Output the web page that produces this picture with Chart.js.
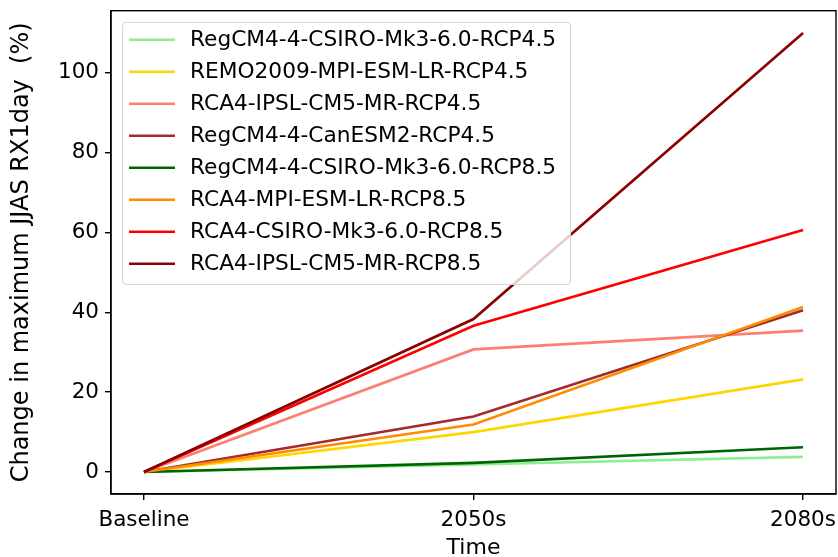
<!DOCTYPE html>
<html>
<head>
<meta charset="utf-8">
<script src="https://cdn.jsdelivr.net/npm/chart.js@4/dist/chart.umd.min.js"></script>
<style>
html,body{margin:0;padding:0;background:#fff;}
#wrap{width:838px;height:557px;position:relative;}
</style>
</head>
<body>
<div id="wrap"><canvas id="c" width="838" height="557"></canvas></div>
<script>
const categories = ["Baseline", "2050s", "2080s"];
const seriesNames = [
  "RegCM4-4-CSIRO-Mk3-6.0-RCP4.5",
  "REMO2009-MPI-ESM-LR-RCP4.5",
  "RCA4-IPSL-CM5-MR-RCP4.5",
  "RegCM4-4-CanESM2-RCP4.5",
  "RegCM4-4-CSIRO-Mk3-6.0-RCP8.5",
  "RCA4-MPI-ESM-LR-RCP8.5",
  "RCA4-CSIRO-Mk3-6.0-RCP8.5",
  "RCA4-IPSL-CM5-MR-RCP8.5"
];
const regcmCsiro45 = [0, 1.9, 3.8];
const remoMpi45 = [0, 10.0, 23.2];
const rcaIpsl45 = [0, 30.7, 35.4];
const regcmCan45 = [0, 13.9, 40.5];
const regcmCsiro85 = [0, 2.3, 6.2];
const rcaMpi85 = [0, 11.9, 41.3];
const rcaCsiro85 = [0, 36.6, 60.6];
const rcaIpsl85 = [0, 38.3, 109.9];
const yTicks = [0, 20, 40, 60, 80, 100];

const seriesValues = [regcmCsiro45, remoMpi45, rcaIpsl45, regcmCan45, regcmCsiro85, rcaMpi85, rcaCsiro85, rcaIpsl85];
const colors = ["#90EE90", "#FFD700", "#FA8072", "#A52A2A", "#006400", "#FF8C00", "#FF0000", "#8B0000"];

const FONT = "'DejaVu Sans', sans-serif";
Chart.defaults.font.family = FONT;
Chart.defaults.color = "#000";

const datasets = seriesNames.map((name, i) => ({
  label: name,
  data: seriesValues[i].map((v, j) => ({x: j, y: v})),
  borderColor: colors[i],
  backgroundColor: colors[i],
  borderWidth: 2.6,
  pointRadius: 0,
  tension: 0,
  fill: false,
  order: seriesNames.length - i
}));

const framePlugin = {
  id: 'frame',
  afterDraw(chart) {
    const ctx = chart.ctx, a = chart.chartArea;
    ctx.save();
    ctx.strokeStyle = "#000";
    ctx.lineWidth = 1.4;
    ctx.strokeRect(a.left, a.top, a.right - a.left, a.bottom - a.top);
    // legend
    const lx = 122.5, ly = 22.5, lw = 448, lh = 262, r = 4;
    ctx.beginPath();
    ctx.moveTo(lx + r, ly);
    ctx.arcTo(lx + lw, ly, lx + lw, ly + lh, r);
    ctx.arcTo(lx + lw, ly + lh, lx, ly + lh, r);
    ctx.arcTo(lx, ly + lh, lx, ly, r);
    ctx.arcTo(lx, ly, lx + lw, ly, r);
    ctx.closePath();
    ctx.fillStyle = "rgba(255,255,255,0.8)";
    ctx.fill();
    ctx.strokeStyle = "#d6d6d6";
    ctx.lineWidth = 1.2;
    ctx.stroke();
    ctx.font = "21.7px " + FONT;
    ctx.textBaseline = "middle";
    chart.data.datasets.forEach((d, i) => {
      const y = 39.7 + i * 32;
      ctx.strokeStyle = d.borderColor;
      ctx.lineWidth = 2.6;
      ctx.beginPath();
      ctx.moveTo(129, y);
      ctx.lineTo(175, y);
      ctx.stroke();
      ctx.fillStyle = "#000";
      ctx.fillText(d.label, 190, y + 1);
    });
    ctx.restore();
  }
};

new Chart(document.getElementById('c'), {
  type: 'line',
  data: {datasets},
  options: {
    responsive: false,
    animation: false,
    devicePixelRatio: 1,
    layout: {padding: {top: 10.7, right: 2, left: 0, bottom: 0}},
    plugins: {legend: {display: false}, tooltip: {enabled: false}},
    scales: {
      x: {
        type: 'linear',
        min: -0.1, max: 2.1,
        afterBuildTicks(s) { s.ticks = categories.map((c, i) => ({value: i})); },
        afterFit(s) { s.height = 63; s.paddingLeft = 0; s.paddingRight = 0; },
        ticks: {
          callback: (v) => categories[v],
          font: {size: 21.5, family: FONT},
          color: "#000",
          padding: 8,
          maxRotation: 0,
          autoSkip: false
        },
        grid: {display: true, drawOnChartArea: false, drawTicks: true, tickLength: 6, color: "#000", lineWidth: 1.4},
        border: {display: true, color: "#000", width: 1.4},
        title: {display: true, text: "Time", font: {size: 22, family: FONT, lineHeight: 1}, color: "#000", padding: {top: 0, bottom: -2}}
      },
      y: {
        min: -5.5, max: 115.5,
        afterBuildTicks(s) { s.ticks = yTicks.map(v => ({value: v})); },
        afterFit(s) { s.width = 111; s.paddingTop = 0; s.paddingBottom = 0; },
        ticks: {
          font: {size: 21.5, family: FONT},
          color: "#000",
          padding: 6
        },
        grid: {display: true, drawOnChartArea: false, drawTicks: true, tickLength: 6, color: "#000", lineWidth: 1.4},
        border: {display: true, color: "#000", width: 1.4},
        title: {display: true, text: "Change in maximum JJAS RX1day  (%)", font: {size: 24, family: FONT}, color: "#000", padding: {top: 7.5, bottom: 0}}
      }
    }
  },
  plugins: [framePlugin]
});
</script>
</body>
</html>
